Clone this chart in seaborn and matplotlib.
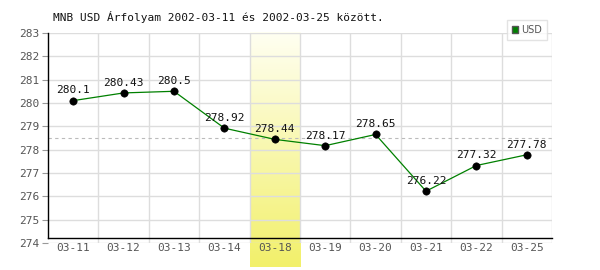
import matplotlib
matplotlib.use("Agg")
import matplotlib.pyplot as plt
import seaborn as sns
import numpy as np
import pandas as pd
from matplotlib.colors import LinearSegmentedColormap
from matplotlib.patches import Patch

dates = ["03-11", "03-12", "03-13", "03-14", "03-18", "03-19", "03-20", "03-21", "03-22", "03-25"]
values = [280.1, 280.43, 280.5, 278.92, 278.44, 278.17, 278.65, 276.22, 277.32, 277.78]
highlight = "03-18"
avg_line = 278.48
title = "MNB USD Árfolyam 2002-03-11 és 2002-03-25 között."

sns.set_style("white")
plt.rcParams['font.family'] = ['DejaVu Sans Mono', 'DejaVu Sans']

df = pd.DataFrame({"date": dates, "value": values})
df["x"] = np.arange(len(dates))

fig = plt.figure(figsize=(6, 2.7), dpi=100)
ax = fig.add_axes([0.08, 0.1, 0.84, 0.778])

n = len(dates)

# highlight column with gradient
hi = dates.index(highlight)
cmap = LinearSegmentedColormap.from_list("hl", ["#fffff2", "#f2f06a"])
grad = np.linspace(0, 1, 256).reshape(-1, 1)
ax.imshow(grad, cmap=cmap, aspect="auto", extent=[hi - 0.5, hi + 0.5, 272.97, 283],
          origin="upper", clip_on=False, zorder=0.5)
ax.set_xlim(-0.5, n - 0.5)
ax.set_ylim(274, 283)

# grid
for yv in range(274, 284):
    ax.axhline(yv, color="#dddddd", lw=1, zorder=1)
for xv in np.arange(0.5, n, 1.0):
    ax.axvline(xv, color="#dddddd", lw=1, zorder=1)
ax.axhline(avg_line, color="#bbbbbb", lw=0.8, ls=(0, (3, 3)), zorder=1.5)

sns.lineplot(data=df, x="x", y="value", ax=ax, color="#008000", lw=0.9, zorder=3, legend=False)
sns.scatterplot(data=df, x="x", y="value", ax=ax, color="black", s=28, zorder=4, edgecolor="black", legend=False)

for xi, v in zip(df["x"], values):
    ax.text(xi, v + 0.22, f"{v:g}", ha="center", va="bottom", fontsize=8, color="#111111", zorder=5)

ax.set_xticks(df["x"])
ax.set_xticklabels(dates)
ax.set_yticks(range(274, 284))
ax.tick_params(axis="x", length=0, labelsize=8, labelcolor="#555555", pad=4)
ax.tick_params(axis="y", length=4, color="#999999", labelsize=8, labelcolor="#555555", pad=2, left=True)
ax.set_xlabel("")
ax.set_ylabel("")

for s in ["top", "right"]:
    ax.spines[s].set_visible(False)
ax.spines["left"].set_color("black")
ax.spines["left"].set_linewidth(1)
ax.spines["bottom"].set_color("black")
ax.spines["bottom"].set_linewidth(1)
ax.spines["bottom"].set_position(("data", 274.22))
ax.spines["left"].set_bounds(274.22, 283)

fig.text(53 / 600, 1 - 17 / 270, title, fontsize=8, ha="left", va="center", color="#111111")

# legend
leg = ax.legend(handles=[Patch(facecolor="#008000", edgecolor="#555555", label="USD")],
                loc="upper right", bbox_to_anchor=(1.0, 1.085), frameon=True,
                handlelength=0.7, handleheight=0.7, handletextpad=0.3, borderpad=0.5,
                fancybox=False, prop={'family': 'DejaVu Sans', 'size': 7})
leg.get_frame().set_edgecolor("#dddddd")
leg.get_frame().set_linewidth(1)
for t in leg.get_texts():
    t.set_color("#555555")

fig.savefig("out.png", dpi=100)
